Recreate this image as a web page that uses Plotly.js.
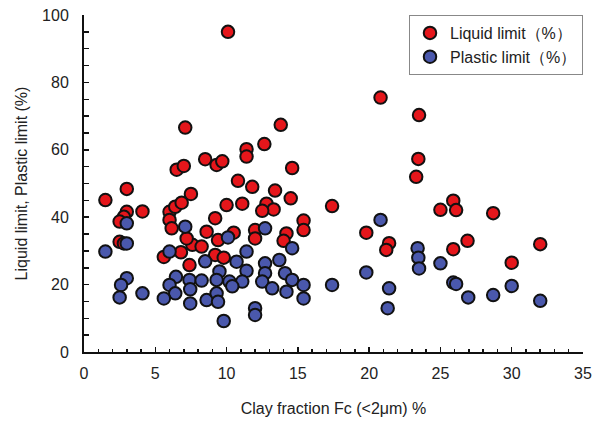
<!DOCTYPE html>
<html><head><meta charset="utf-8">
<script src="https://cdn.plot.ly/plotly-3.0.1.min.js"></script>
<style>html,body{margin:0;padding:0;background:#fff}#chart{width:592px;height:426px}</style>
</head><body><div id="chart"></div>
<script>
// Liquid limit (%) vs clay fraction
var llX = [1.5,3.0,3.0,2.8,2.5,4.1,2.5,2.8,5.6,6.0,6.0,6.15,6.4,6.85,7.5,6.5,7.0,7.1,8.5,9.3,9.7,10.1,11.4,11.4,12.65,13.8,10.8,11.8,13.4,14.5,14.6,10.0,11.1,12.8,13.3,12.5,9.2,8.6,10.5,12.0,12.0,9.4,14.2,14.0,15.4,15.4,6.8,7.6,8.25,7.2,7.4,9.2,9.8,17.4,19.8,21.4,21.2,20.8,23.5,23.45,23.3,25.0,25.9,26.1,28.7,26.9,25.9,32.0,30.0];
var llY = [45.1,48.4,41.6,40.1,38.7,41.7,32.7,32.2,28.2,41.6,39.2,36.7,43.1,44.3,46.9,54.1,55.2,66.6,57.2,55.5,56.6,95.0,60.2,58.0,61.7,67.4,50.8,49.0,47.9,45.6,54.6,43.6,44.0,44.0,42.3,41.9,39.7,35.7,35.4,36.2,33.7,33.2,35.2,33.0,39.0,36.2,29.6,31.8,31.3,33.7,25.8,28.8,28.0,43.3,35.4,32.3,30.3,75.5,70.3,57.3,52.0,42.2,44.9,42.1,41.2,33.0,30.5,32.0,26.5];
// Plastic limit (%) vs clay fraction
var plX = [1.5,3.0,3.0,3.0,2.6,2.5,4.1,7.1,10.1,6.0,8.5,9.5,6.45,6.0,7.4,7.45,8.25,6.4,5.6,7.45,8.6,9.3,9.3,9.4,9.8,11.4,10.7,12.7,13.7,14.6,11.4,12.7,14.1,14.6,10.2,11.1,12.5,13.2,14.2,15.4,15.4,12.0,12.0,12.7,10.4,17.4,19.8,20.8,21.4,21.3,23.4,23.45,23.5,25.0,25.9,26.1,26.95,28.7,30.0,32.0];
var plY = [29.8,38.2,32.2,21.9,19.9,16.2,17.4,37.2,34.0,29.8,26.9,23.9,22.3,19.9,21.4,18.6,21.2,17.4,15.9,14.4,15.4,21.4,17.4,14.9,9.2,29.8,26.8,26.3,27.3,30.8,24.1,23.4,23.4,21.4,20.9,20.9,20.9,18.9,17.9,19.9,15.9,13.0,11.0,36.7,19.5,19.9,23.6,39.2,18.9,13.0,30.8,28.0,24.8,26.3,20.6,20.2,16.2,16.9,19.6,15.2];
var seriesNames = ['Liquid limit（%）', 'Plastic limit（%）'];
var xTitle = 'Clay fraction Fc (<2μm) %';
var yTitle = 'Liquid limit, Plastic limit (%)';

var mk = function(c){return {size:12.5, color:c, line:{color:'#111', width:2}};};
var data = [
  {x:llX, y:llY, type:'scatter', mode:'markers', name:seriesNames[0], marker:mk('#E5161B')},
  {x:plX, y:plY, type:'scatter', mode:'markers', name:seriesNames[1], marker:mk('#4A58AC')}
];
var fam = '"Liberation Sans", Arial, sans-serif';
var font = {family:fam, size:16, color:'#222'};
var layout = {
  width:592, height:426,
  margin:{l:84, r:9, t:15, b:74},
  paper_bgcolor:'#fff', plot_bgcolor:'#fff',
  font:font,
  showlegend:true,
  legend:{x:1, xanchor:'right', y:1, yanchor:'top', bordercolor:'#888', borderwidth:1, bgcolor:'#fff',
          font:{family:fam, size:16, color:'#222'}, tracegroupgap:2, itemwidth:30},
  xaxis:{range:[0,35], dtick:5, showgrid:false, zeroline:false, showline:true, linecolor:'#111', linewidth:2,
         ticks:'inside', ticklen:5, tickwidth:1.5, tickcolor:'#111', ticklabelstandoff:6,
         tickfont:{family:fam, size:16, color:'#222'},
         minor:{dtick:1, ticks:'inside', ticklen:3, tickwidth:1.5, tickcolor:'#111', showgrid:false},
         title:{text:xTitle, font:font, standoff:22}},
  yaxis:{range:[0,100], dtick:20, showgrid:false, zeroline:false, showline:true, linecolor:'#111', linewidth:2,
         ticks:'inside', ticklen:5, tickwidth:1.5, tickcolor:'#111', ticklabelstandoff:10,
         tickfont:{family:fam, size:16, color:'#222'},
         minor:{dtick:5, ticks:'inside', ticklen:5, tickwidth:1.5, tickcolor:'#111', showgrid:false},
         title:{text:yTitle, font:font, standoff:10}}
};
Plotly.newPlot('chart', data, layout, {staticPlot:true, displayModeBar:false});
</script></body></html>
